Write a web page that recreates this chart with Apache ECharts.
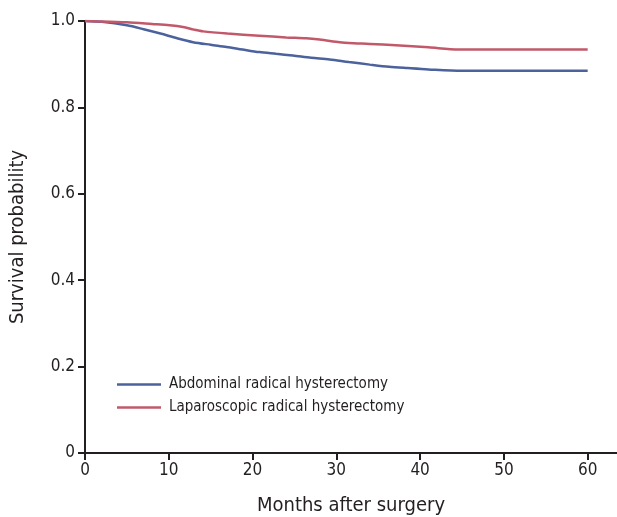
<!DOCTYPE html>
<html>
<head>
<meta charset="utf-8">
<script src="https://cdn.jsdelivr.net/npm/echarts@6/dist/echarts.min.js"></script>
<style>html,body{margin:0;padding:0;background:#fff}#c{width:617px;height:517px}</style>
</head>
<body>
<div id="c"></div>
<script>
var FONT = '"Liberation Sans Narrow","DejaVu Sans Condensed",sans-serif';
var seriesNames = ['Abdominal radical hysterectomy', 'Laparoscopic radical hysterectomy'];
var abdominalMonths = [0, 2, 5, 7, 9, 11, 12.9, 15, 16.9, 18.8, 20.8, 22.8, 24.8, 27, 29.2, 31.5, 34, 36.3, 38.5, 41, 45, 50, 55, 60];
var abdominalSurv   = [1.0, 0.998, 0.990, 0.981, 0.971, 0.960, 0.951, 0.945, 0.940, 0.934, 0.928, 0.924, 0.920, 0.915, 0.911, 0.905, 0.899, 0.894, 0.891, 0.888, 0.885, 0.885, 0.885, 0.885];
var laparoMonths = [0, 3, 5, 8, 10.1, 11.7, 13, 14.1, 17, 20.8, 24, 26.4, 28, 30.4, 31.5, 34, 37.1, 41, 44.6, 50, 55, 60];
var laparoSurv   = [1.0, 0.998, 0.997, 0.993, 0.990, 0.986, 0.980, 0.976, 0.971, 0.966, 0.962, 0.960, 0.957, 0.951, 0.949, 0.947, 0.944, 0.939, 0.934, 0.934, 0.934, 0.934];
var xTicks = [0, 10, 20, 30, 40, 50, 60];
var yTickLabels = {0: '0', 0.2: '0.2', 0.4: '0.4', 0.6: '0.6', 0.8: '0.8', 1: '1.0'};

function pairs(xs, ys) { return xs.map(function (x, i) { return [x, ys[i]]; }); }

var axisColor = '#231f20';
var chart = echarts.init(document.getElementById('c'));
chart.setOption({
  animation: false,
  backgroundColor: '#fff',
  grid: { left: 85, right: 0, top: 21, bottom: 64, containLabel: false, outerBoundsMode: 'none' },
  legend: {
    orient: 'vertical', left: 112, top: 372,
    icon: 'rect', itemWidth: 44, itemHeight: 2.5, itemGap: 8,
    textStyle: { fontFamily: FONT, fontSize: 15, color: axisColor, padding: [0, 0, 0, 3] },
    data: seriesNames
  },
  xAxis: {
    type: 'value', min: 0, max: 63.5, interval: 10,
    name: 'Months after surgery', nameLocation: 'middle', nameGap: 43,
    nameTextStyle: { fontFamily: FONT, fontSize: 20, color: axisColor },
    axisLine: { show: true, lineStyle: { color: axisColor, width: 2 } },
    axisTick: { show: true, length: 7, lineStyle: { color: axisColor, width: 2 } },
    axisLabel: { fontFamily: FONT, fontSize: 17, color: axisColor, margin: 9, showMaxLabel: false,
      formatter: function (v) { return xTicks.indexOf(v) >= 0 ? String(v) : ''; } },
    splitLine: { show: false }
  },
  yAxis: {
    type: 'value', min: 0, max: 1, interval: 0.2,
    name: 'Survival probability', nameLocation: 'middle', nameGap: 57,
    nameTextStyle: { fontFamily: FONT, fontSize: 20, color: axisColor },
    axisLine: { show: true, lineStyle: { color: axisColor, width: 2 } },
    axisTick: { show: true, length: 7, lineStyle: { color: axisColor, width: 2 } },
    axisLabel: { fontFamily: FONT, fontSize: 17, color: axisColor, margin: 10,
      formatter: function (v) { var k = Math.round(v * 10) / 10; return yTickLabels[k] !== undefined ? yTickLabels[k] : ''; } },
    splitLine: { show: false }
  },
  series: [
    { name: seriesNames[0], type: 'line', data: pairs(abdominalMonths, abdominalSurv),
      symbol: 'none', smooth: 0.3, lineStyle: { color: '#4b629d', width: 2.5 }, itemStyle: { color: '#4b629d' } },
    { name: seriesNames[1], type: 'line', data: pairs(laparoMonths, laparoSurv),
      symbol: 'none', smooth: 0.3, lineStyle: { color: '#c2596b', width: 2.5 }, itemStyle: { color: '#c2596b' } }
  ]
});
</script>
</body>
</html>
